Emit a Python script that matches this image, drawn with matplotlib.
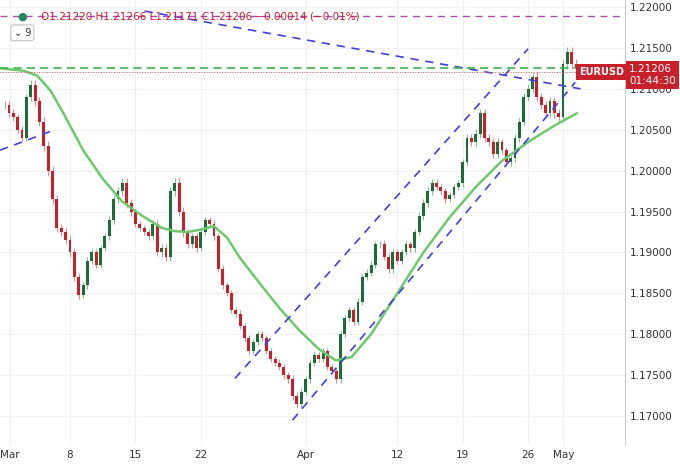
import matplotlib
matplotlib.use("Agg")
import matplotlib.pyplot as plt
import numpy as np

closes = [
 [1.2080,1.2070,1.2065],[1.2050,1.2040,1.2090],[1.2105,1.2085,1.2060],[1.2030,1.2000,1.1965],[1.1930,1.1925,1.1915],
 [1.1900,1.1870,1.1848],[1.1860,1.1890,1.1900],[1.1885,1.1905,1.1920],[1.1940,1.1965,1.1975],[1.1985,1.1960,1.1950],
 [1.1935,1.1930,1.1925],[1.1920,1.1935,1.1900],[1.1905,1.1895,1.1975],[1.1985,1.1950,1.1925],[1.1910,1.1920,1.1905],
 [1.1925,1.1940,1.1935],[1.1920,1.1880,1.1860],[1.1850,1.1830,1.1825],[1.1810,1.1795,1.1780],[1.1790,1.1800,1.1795],
 [1.1780,1.1770,1.1765],[1.1760,1.1750,1.1745],[1.1725,1.1715,1.1730],[1.1745,1.1765,1.1775],[1.1770,1.1780,1.1760],
 [1.1755,1.1745,1.1800],[1.1820,1.1830,1.1815],[1.1840,1.1870,1.1875],[1.1885,1.1910,1.1910],[1.1895,1.1880,1.1900],
 [1.1890,1.1900,1.1910],[1.1905,1.1925,1.1945],[1.1960,1.1975,1.1985],[1.1980,1.1975,1.1965],[1.1970,1.1980,1.1985],
 [1.2010,1.2040,1.2035],[1.2045,1.2070,1.2040],[1.2035,1.2020,1.2035],[1.2025,1.2010,1.2015],[1.2040,1.2060,1.2090],
 [1.2100,1.2115,1.2090],[1.2080,1.2070,1.2085],[1.2070,1.2065,1.2130],[1.2145,1.2130,1.2125],[1.2118,1.2122,1.21206]]
wicks = [8,7,9,10,8,9,7,6,8,9,6,7,9,10,7,6,7,6,7,6,6,7,8,7,6,7,6,7,7,8,6,7,8,7,6,8,9,8,7,8,9,8,9,10,5]
ma_idx = [-0.3,1.5,2.5,3.5,4.5,6,7.5,9,10.5,12,13,14,15,16,17,18,19.5,21,22.5,24,25.3,26.5,28,30,32,34,36,38,40,42,43.7]
ma_val = [1.2125,1.2122,1.2116,1.2098,1.2070,1.2025,1.1990,1.1962,1.1945,1.1930,1.1926,1.1925,1.1928,1.1932,1.1918,1.1893,1.1862,1.1832,1.1805,1.1782,1.1768,1.1772,1.1800,1.1850,1.1900,1.1943,1.1980,1.2012,1.2035,1.2055,1.2070]
xt_pos = [0.4,5,10,15,23,30,35,40,42.7]
xt_lab = ["Mar","8","15","22","Apr","12","19","26","May"]
yt = [1.17,1.175,1.18,1.185,1.19,1.195,1.20,1.205,1.21,1.215,1.22]
trend_lines = [((-0.35,1.2025),(3.85,1.2050)),((10.7,1.2195),(44.0,1.2100)),
               ((17.6,1.1746),(40.0,1.2149)),((22.0,1.1695),(43.6,1.2108))]

fig = plt.figure(figsize=(6.8,4.69), dpi=100)
ax = fig.add_axes([0,24/469,625/680,445/469])
ax.set_xlim(-0.35,47.4); ax.set_ylim(1.16646,1.22086)
for v in xt_pos: ax.axvline(v,color="#f0f0f0",lw=0.8,zorder=0)
for v in yt: ax.axhline(v,color="#f0f0f0",lw=0.8,zorder=0)
prev = closes[0][0]
for d,day in enumerate(closes):
    w = wicks[d]*1e-4
    for k,c in enumerate(day):
        x = d + k/3.0
        o = prev
        up = c>=o
        col = "#1e6b37" if up else "#c8202a"
        wc = "#7fbf8f" if up else "#e8898c"
        ax.vlines(x, min(o,c)-w*0.6, max(o,c)+w*0.6, color=wc, lw=0.8, zorder=2)
        ax.bar(x, max(abs(c-o),0.00005), bottom=min(o,c), width=0.22, color=col, zorder=3)
        prev = c
ax.plot(ma_idx, ma_val, color="#6cc96c", lw=1.8, zorder=4)
for (a,b) in trend_lines:
    ax.plot([a[0],b[0]],[a[1],b[1]],color="#4040e0",lw=1.2,ls=(0,(5,4)),zorder=5)
ax.axhline(1.2125,color="#3cb44b",lw=1.2,ls=(0,(5,3)),zorder=5)
ax.axhline(1.2189,color="#b04ab0",lw=1.0,ls=(0,(5,4)),zorder=5)
ax.axhline(1.21206,color="#d9534f",lw=0.7,ls=":",zorder=5)
ax.set_xticks(xt_pos); ax.set_xticklabels(xt_lab)
ax.set_yticks(yt); ax.set_yticklabels([f"{v:.5f}" for v in yt])
ax.yaxis.tick_right()
ax.tick_params(length=0,labelsize=7.5,colors="#333333")
for s in ["top","left","bottom"]: ax.spines[s].set_visible(False)
ax.spines["right"].set_color("#cccccc")
ax.text(43.9,1.21206,"EURUSD",color="white",fontsize=7,fontweight="bold",va="center",
        bbox=dict(boxstyle="square,pad=0.3",fc="#c8202a",ec="none"),zorder=10)
fig.text(0.925,0.84,"1.21206\n01:44:30",color="white",fontsize=7.5,va="center",ha="left",
         bbox=dict(boxstyle="square,pad=0.3",fc="#c8202a",ec="none"))
fig.text(0.06,0.965,"O1.21220 H1.21266 L1.21171 C1.21206 −0.00014 (−0.01%)",color="#c8202a",fontsize=7.5,va="center")
fig.text(0.025,0.965,"●",color="#1e8a5a",fontsize=8,va="center")
fig.text(0.02,0.93,"⌄ 9",color="#333333",fontsize=7,va="center",
         bbox=dict(boxstyle="round,pad=0.3",fc="white",ec="#cccccc"))
fig.savefig("out.png",dpi=100)
